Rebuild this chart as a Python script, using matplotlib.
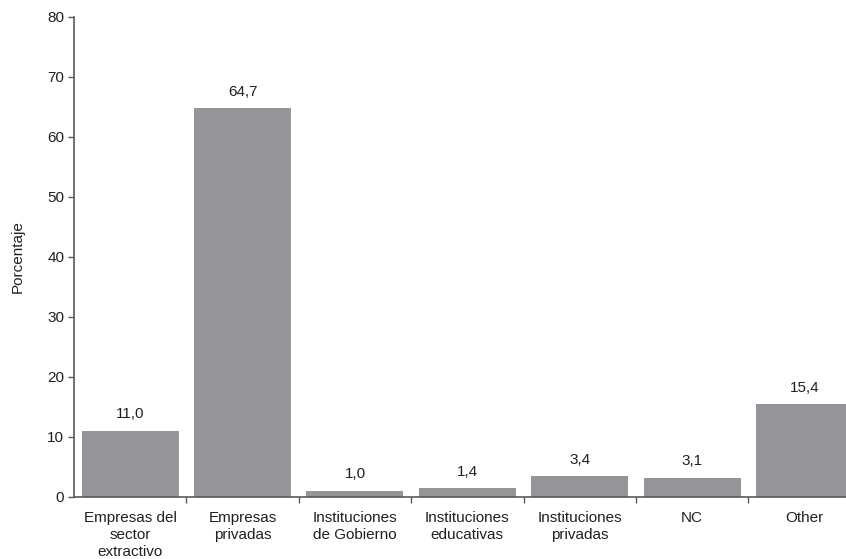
import numpy as np
import matplotlib
matplotlib.use("Agg")
import matplotlib.pyplot as plt

# data
categories = ["Empresas del\nsector\nextractivo", "Empresas\nprivadas",
              "Instituciones\nde Gobierno", "Instituciones\neducativas",
              "Instituciones\nprivadas", "NC", "Other"]
values = [11.0, 64.7, 1.0, 1.4, 3.4, 3.1, 15.4]
value_labels = ["11,0", "64,7", "1,0", "1,4", "3,4", "3,1", "15,4"]
y_ticks = [0, 10, 20, 30, 40, 50, 60, 70, 80]

plt.rcParams["font.family"] = ["Liberation Sans", "DejaVu Sans"]
bar_color = "#939598"
axis_color = "#58595b"
text_color = "#231f20"
fs = 11

fig = plt.figure(figsize=(8.46, 5.59), dpi=100)
ax = fig.add_axes([0.0875, 0.1115, 0.9125, 0.8587])

x = np.arange(len(categories))
bars = ax.bar(x, values, width=0.864, color=bar_color, zorder=2)

# value labels above the bars
for b, lab in zip(bars, value_labels):
    ax.annotate(lab, (b.get_x() + b.get_width() / 2, b.get_height()),
                xytext=(0, 7), textcoords="offset points",
                ha="center", va="bottom", fontsize=fs, color=text_color)

ax.set_xlim(-0.5, 6.37)
ax.set_ylim(0, 80)
ax.set_yticks(y_ticks)

# category names centred, tick marks on the boundaries
ax.set_xticks(x)
ax.set_xticklabels(categories, fontsize=fs, color=text_color, linespacing=1.3)
ax.set_xticks(x[:-1] + 0.5, minor=True)
ax.tick_params(axis="x", which="major", length=0, pad=10)
ax.tick_params(axis="x", which="minor", length=4, width=1, color=axis_color,
               direction="out")
ax.tick_params(axis="y", length=4, width=1, color=axis_color, labelsize=fs,
               labelcolor=text_color, pad=3)

for side in ["top", "right"]:
    ax.spines[side].set_visible(False)
for side in ["left", "bottom"]:
    ax.spines[side].set_color(axis_color)
    ax.spines[side].set_linewidth(1.2)

ax.set_ylabel("Porcentaje", fontsize=fs, color=text_color, labelpad=16)

fig.savefig("out.png", dpi=100)
